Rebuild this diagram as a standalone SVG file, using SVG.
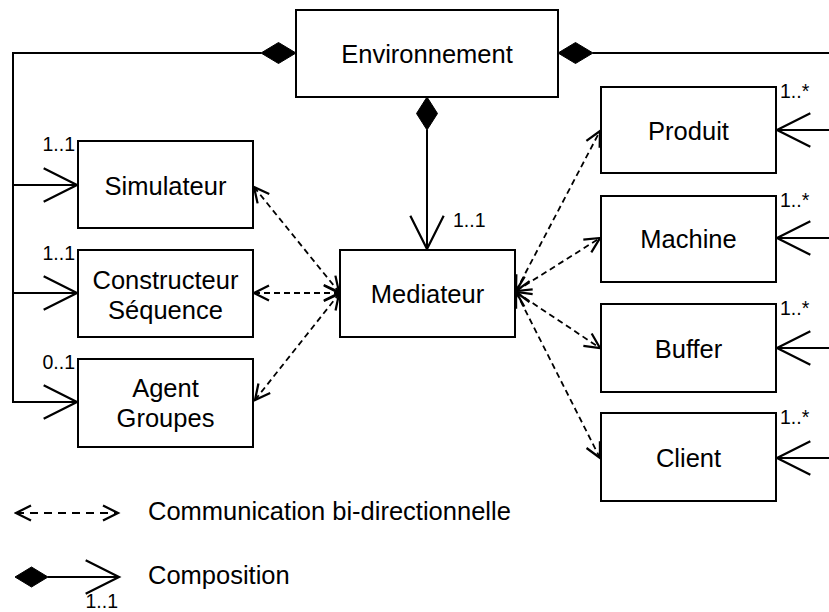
<svg xmlns="http://www.w3.org/2000/svg" width="829" height="612" viewBox="0 0 829 612">
<defs>
<style>
.box{fill:#fff;stroke:#000;stroke-width:2}
.t{font-family:"Liberation Sans",Arial,Helvetica,sans-serif;font-size:25.5px;fill:#000;text-anchor:middle}
.m{font-family:"Liberation Sans",Arial,Helvetica,sans-serif;font-size:19.5px;fill:#000}
.comp{fill:none;stroke:#000;stroke-width:2}
.dash{fill:none;stroke:#000;stroke-width:1.8;stroke-dasharray:6 4}
.dia{fill:#000;stroke:#000;stroke-width:1}
</style>
<marker id="open" markerUnits="userSpaceOnUse" markerWidth="40" markerHeight="40" viewBox="-32 -17 36 34" refX="0" refY="0" orient="auto">
<path d="M-30,-15 L0,0 L-30,15" fill="none" stroke="#000" stroke-width="2"/>
</marker>
<marker id="dhead" markerUnits="userSpaceOnUse" markerWidth="20" markerHeight="20" viewBox="-14 -8 16 16" refX="0" refY="0" orient="auto-start-reverse">
<path d="M-12,-6 L0,0 L-12,6" fill="none" stroke="#000" stroke-width="1.8"/>
</marker>
</defs>

<g id="connectors">
<path class="comp" d="M261,53 H13 V402 H77" marker-end="url(#open)"/>
<path class="comp" d="M13,185 H77" marker-end="url(#open)"/>
<path class="comp" d="M13,293 H77" marker-end="url(#open)"/>
<polygon class="dia" points="296,53 278.5,42.5 261,53 278.5,63.5"/>
<path class="comp" d="M427,130 V249" marker-end="url(#open)"/>
<polygon class="dia" points="427,97 437.5,113.5 427,130 416.5,113.5"/>
<path class="comp" d="M593,53 H829"/>
<polygon class="dia" points="558,53 575.5,42.5 593,53 575.5,63.5"/>
<path class="comp" d="M829,130 H777" marker-end="url(#open)"/>
<path class="comp" d="M829,238 H777" marker-end="url(#open)"/>
<path class="comp" d="M829,348 H777" marker-end="url(#open)"/>
<path class="comp" d="M829,458 H777" marker-end="url(#open)"/>
<path class="dash" d="M254,187 L339,292" marker-start="url(#dhead)" marker-end="url(#dhead)"/>
<path class="dash" d="M254,293 L339,293" marker-start="url(#dhead)" marker-end="url(#dhead)"/>
<path class="dash" d="M255,400 L339,294" marker-start="url(#dhead)" marker-end="url(#dhead)"/>
<path class="dash" d="M516,291 L600,131" marker-start="url(#dhead)" marker-end="url(#dhead)"/>
<path class="dash" d="M516,291 L600,238" marker-start="url(#dhead)" marker-end="url(#dhead)"/>
<path class="dash" d="M516,292 L600,348" marker-start="url(#dhead)" marker-end="url(#dhead)"/>
<path class="dash" d="M516,292 L600,458" marker-start="url(#dhead)" marker-end="url(#dhead)"/>
</g>

<g id="environnement">
<rect class="box" x="296" y="10" width="262" height="87"/>
<text class="t" x="427" y="63">Environnement</text>
</g>
<g id="simulateur">
<rect class="box" x="78" y="141" width="175" height="87"/>
<text class="t" x="165.5" y="195">Simulateur</text>
<text class="m" x="75" y="151" text-anchor="end">1..1</text>
</g>
<g id="constructeur">
<rect class="box" x="78" y="250" width="175" height="87"/>
<text class="t" x="165.5" y="289">Constructeur</text>
<text class="t" x="165.5" y="319">Séquence</text>
<text class="m" x="75" y="260" text-anchor="end">1..1</text>
</g>
<g id="agent">
<rect class="box" x="78" y="359" width="175" height="88"/>
<text class="t" x="165.5" y="397">Agent</text>
<text class="t" x="165.5" y="427">Groupes</text>
<text class="m" x="75" y="369" text-anchor="end">0..1</text>
</g>
<g id="mediateur">
<rect class="box" x="340" y="250" width="175" height="87"/>
<text class="t" x="427.5" y="303">Mediateur</text>
<text class="m" x="453" y="227">1..1</text>
</g>
<g id="produit">
<rect class="box" x="601" y="87" width="175" height="86"/>
<text class="t" x="688.5" y="139.5">Produit</text>
<text class="m" x="780" y="98">1..*</text>
</g>
<g id="machine">
<rect class="box" x="601" y="196" width="175" height="86"/>
<text class="t" x="688.5" y="248">Machine</text>
<text class="m" x="780" y="207">1..*</text>
</g>
<g id="buffer">
<rect class="box" x="601" y="304" width="175" height="88"/>
<text class="t" x="688.5" y="357.5">Buffer</text>
<text class="m" x="780" y="315">1..*</text>
</g>
<g id="client">
<rect class="box" x="601" y="413" width="175" height="88"/>
<text class="t" x="688.5" y="467">Client</text>
<text class="m" x="780" y="424">1..*</text>
</g>

<g id="legend">
<path class="dash" style="stroke-dasharray:8 6" d="M16,513 L118,513" marker-start="url(#dhead)" marker-end="url(#dhead)"/>
<text class="t" x="148" y="520" style="text-anchor:start">Communication bi-directionnelle</text>
<polygon class="dia" points="15,577 31.5,567 48,577 31.5,587"/>
<path class="comp" d="M48,577 H119" marker-end="url(#open)"/>
<text class="t" x="148" y="584" style="text-anchor:start">Composition</text>
<text class="m" x="118" y="608" text-anchor="end">1..1</text>
</g>
</svg>
